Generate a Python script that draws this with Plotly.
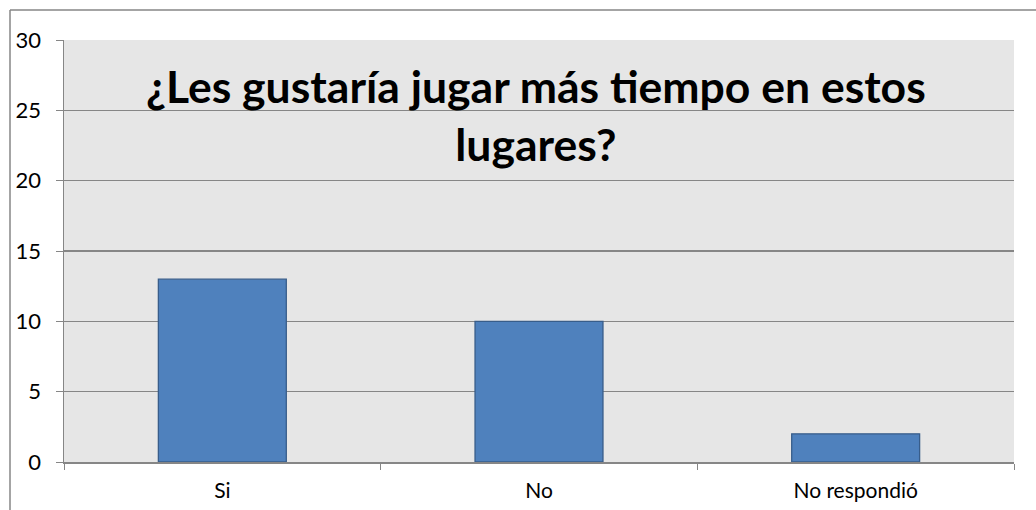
import plotly.graph_objects as go

categories = ["Si", "No", "No respondió"]
values = [13, 10, 2]
y_ticks = [0, 5, 10, 15, 20, 25, 30]
title_text = "¿Les gustaría jugar más tiempo en estos<br>lugares?"

W, H = 1036, 510
L, R, T, B = 64, 22, 40, 48
pw, ph = W - L - R, H - T - B

fig = go.Figure()
fig.add_trace(go.Bar(
    x=categories, y=values, width=0.404,
    marker=dict(color="#4F81BD", line=dict(color="#385D8A", width=1.3)),
    hoverinfo="skip",
))

def px_to_paper_x(px):
    return (px - L) / pw

def px_to_paper_y(py):
    return 1 - (py - T) / ph

fig.update_layout(
    width=W, height=H,
    margin=dict(l=L, r=R, t=T, b=B, autoexpand=False),
    paper_bgcolor="white",
    plot_bgcolor="#E6E6E6",
    showlegend=False,
    font=dict(family="Lato", size=18, color="black"),
    xaxis=dict(
        showgrid=False, showline=True, linecolor="#868686", linewidth=1.5,
        ticks="outside", tickson="boundaries", ticklen=6, tickcolor="#868686",
        tickfont=dict(size=21), range=[-0.5, 2.5], automargin=False,
        ticklabelstandoff=9,
    ),
    yaxis=dict(
        range=[0, 30], tickvals=y_ticks, showgrid=True, gridcolor="#868686",
        gridwidth=1.3, showline=True, linecolor="#868686", linewidth=1.5,
        ticks="outside", ticklen=7, tickcolor="#868686", tickfont=dict(size=22),
        zeroline=False, automargin=False, ticklabelstandoff=10,
    ),
    annotations=[dict(
        text="<b>" + title_text + "</b>", xref="paper", yref="paper",
        x=px_to_paper_x(536), y=px_to_paper_y(57), xanchor="center", yanchor="top",
        showarrow=False, font=dict(family="Lato", size=44.5, color="black"),
        align="center",
    )],
    shapes=[
        dict(type="line", xref="paper", yref="paper",
             x0=px_to_paper_x(10), x1=px_to_paper_x(10),
             y0=px_to_paper_y(10), y1=px_to_paper_y(H + 5),
             line=dict(color="#868686", width=1.5)),
        dict(type="line", xref="paper", yref="paper",
             x0=px_to_paper_x(10), x1=px_to_paper_x(W + 5),
             y0=px_to_paper_y(10), y1=px_to_paper_y(10),
             line=dict(color="#868686", width=1.5)),
    ],
)

fig.write_html(
    "out.html",
    config={"displayModeBar": False, "staticPlot": True},
    post_script="document.body.style.margin='0px';document.body.style.overflow='hidden';",
)
